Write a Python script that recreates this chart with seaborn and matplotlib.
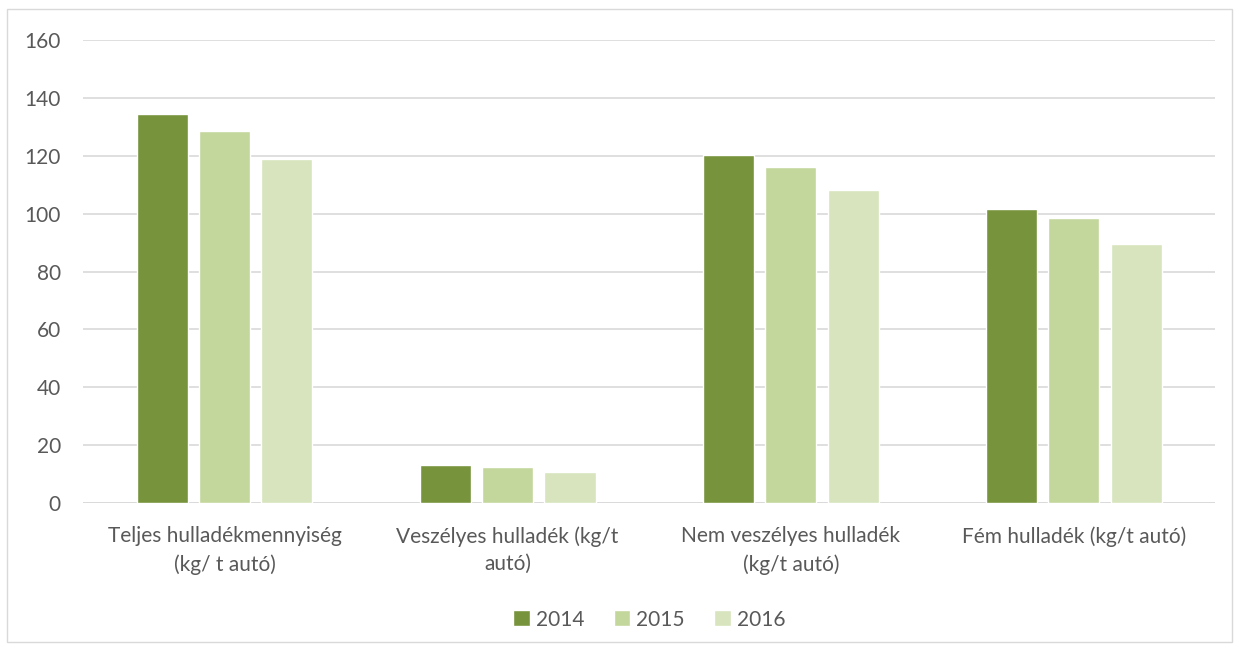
import matplotlib
matplotlib.use("Agg")
import matplotlib.pyplot as plt
import matplotlib.patches as mpatches
import seaborn as sns
import pandas as pd

categories = ["Teljes hulladékmennyiség\n(kg/ t autó)",
              "Veszélyes hulladék (kg/t\nautó)",
              "Nem veszélyes hulladék\n(kg/t autó)",
              "Fém hulladék (kg/t autó)"]
years = ["2014", "2015", "2016"]
v2014 = [134.5, 13.2, 120.4, 101.5]
v2015 = [128.6, 12.4, 116.3, 98.5]
v2016 = [118.8, 10.8, 108.3, 89.5]
colors = ["#77933C", "#C3D69B", "#D7E4BD"]

rows = []
for yr, vals in zip(years, [v2014, v2015, v2016]):
    for c, v in zip(categories, vals):
        rows.append({"cat": c, "year": yr, "value": v})
df = pd.DataFrame(rows)

sns.set_style("white")
plt.rcParams['font.family'] = ['Lato', 'DejaVu Sans']

fig = plt.figure(figsize=(12.39, 6.48), dpi=100)
ax = fig.add_axes([0.067, 0.224, 0.914, 0.714])

sns.barplot(data=df, x="cat", y="value", hue="year", palette=colors,
            width=0.66, gap=0.18, ax=ax, saturation=1, legend=True)

ax.set_ylim(0, 160)
ax.set_yticks(range(0, 161, 20))
ax.yaxis.grid(True, color="#D9D9D9", linewidth=1.2)
ax.set_axisbelow(True)
for s in ax.spines.values():
    s.set_visible(False)
ax.axhline(0, color="#D9D9D9", linewidth=1.2, zorder=0)
ax.set_xlabel("")
ax.set_ylabel("")
ax.tick_params(axis="both", length=0, labelsize=15, labelcolor="#595959")
ax.tick_params(axis="y", pad=16)
ax.tick_params(axis="x", pad=17)
for lbl in ax.get_xticklabels():
    lbl.set_linespacing(1.45)

leg = ax.legend(loc="upper center", bbox_to_anchor=(0.5, -0.19), ncol=3,
                frameon=False, fontsize=15, handlelength=0.8, handleheight=0.8,
                handletextpad=0.3, columnspacing=1.4)
for t in leg.get_texts():
    t.set_color("#595959")

fig.patches.append(mpatches.Rectangle((0.006, 0.01), 0.988, 0.976,
                                      transform=fig.transFigure, fill=False,
                                      edgecolor="#D9D9D9", linewidth=1))

fig.savefig("out.png", dpi=100)
